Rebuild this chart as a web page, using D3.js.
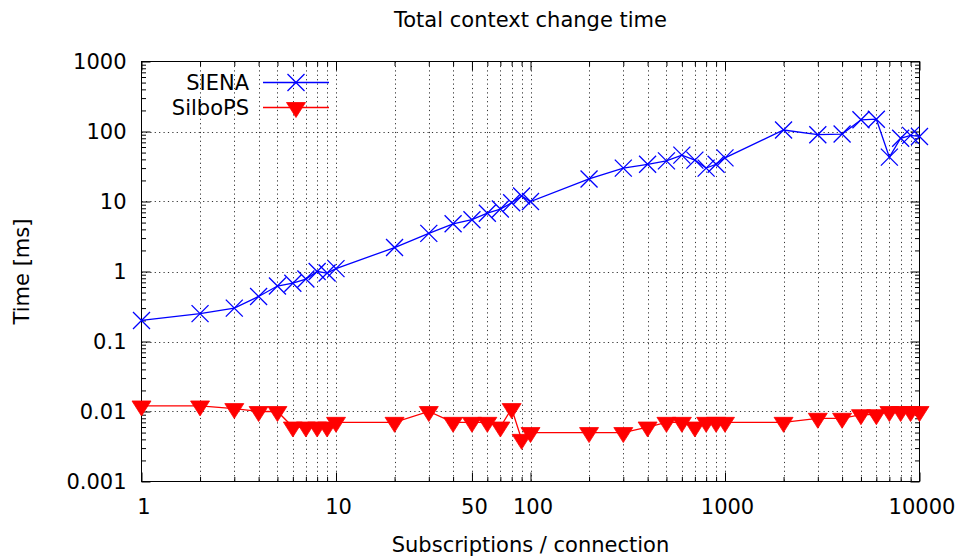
<!DOCTYPE html>
<html>
<head>
<meta charset="utf-8">
<script src="https://cdn.jsdelivr.net/npm/d3@7"></script>
<style>
  html, body { margin: 0; padding: 0; background: #fff; }
  svg text { font-family: "DejaVu Sans", sans-serif; fill: #000; }
</style>
</head>
<body>
<svg id="chart" width="959" height="557"></svg>
<script>
// ---- data ----
const subscriptions = [1,2,3,4,5,6,7,8,9,10,20,30,40,50,60,70,80,90,100,200,300,400,500,600,700,800,900,1000,2000,3000,4000,5000,6000,7000,8000,9000,10000];
const siena   = [0.2,0.25,0.3,0.44,0.62,0.68,0.78,1.0,0.95,1.1,2.2,3.5,4.8,5.5,6.8,7.8,9.6,12,10,21,30,34,38,46,39,30,34,42,105,90,92,147,150,43,80,88,85];
const silbops = [0.012,0.012,0.011,0.01,0.01,0.006,0.006,0.006,0.006,0.007,0.007,0.01,0.007,0.007,0.007,0.006,0.011,0.004,0.005,0.005,0.005,0.006,0.007,0.007,0.006,0.007,0.007,0.007,0.007,0.008,0.008,0.009,0.009,0.01,0.01,0.01,0.01];
const xMajorTicks = [1,10,50,100,1000,10000];
const xTickLabels = ["1","10","50","100","1000","10000"];
const yMajorTicks = [0.001,0.01,0.1,1,10,100,1000];
const yTickLabels = ["0.001","0.01","0.1","1","10","100","1000"];
const seriesNames = ["SIENA","SilboPS"];
const titleText = "Total context change time";
const xLabelText = "Subscriptions / connection";
const yLabelText = "Time [ms]";

// ---- layout ----
const L = 141.5, R = 919.5, T = 61.5, B = 481.5;
const FS = 21;
const svg = d3.select("#chart");

const x = d3.scaleLog().domain([1, 10000]).range([L, R]);
const y = d3.scaleLog().domain([0.001, 1000]).range([B, T]);

// minor ticks: 2..9 multiples in each decade
function minors(lo, hi, exclude) {
  const out = [];
  for (let d = lo; d < hi; d *= 10) {
    for (let m = 2; m <= 9; m++) {
      const v = +(d * m).toPrecision(6);
      if (!exclude.some(e => Math.abs(e - v) / v < 1e-9)) out.push(v);
    }
  }
  return out;
}
const xMinor = minors(1, 10000, xMajorTicks);
const yMinor = minors(0.001, 1000, yMajorTicks);

// ---- grid ----
const grid = svg.append("g").attr("stroke", "#333").attr("stroke-width", 1).attr("stroke-dasharray", "1.2,3.2");
grid.selectAll("line.gx").data(xMajorTicks.concat(xMinor).filter(v => v > 1 && v < 10000)).enter()
  .append("line").attr("x1", d => Math.round(x(d)) + 0.5).attr("x2", d => Math.round(x(d)) + 0.5)
  .attr("y1", T).attr("y2", B);
grid.selectAll("line.gy").data(yMajorTicks.filter(v => v > 0.001 && v < 1000)).enter()
  .append("line").attr("y1", d => Math.round(y(d)) + 0.5).attr("y2", d => Math.round(y(d)) + 0.5)
  .attr("x1", L).attr("x2", R);

// ---- axes (ticks inward, mirrored) ----
function styleAxis(g) {
  g.select(".domain").remove();
  g.selectAll("line").attr("stroke", "#000");
  g.selectAll("text").attr("font-size", FS).attr("font-family", "DejaVu Sans, sans-serif").attr("fill", "#000");
}
svg.append("g").attr("transform", `translate(0,${B})`)
  .call(d3.axisBottom(x).tickValues(xMajorTicks).tickFormat((d, i) => xTickLabels[i]).tickSize(-9).tickPadding(18))
  .call(styleAxis)
  .call(g => g.selectAll("text").attr("dx", 2));
svg.append("g").attr("transform", `translate(0,${B})`)
  .call(d3.axisBottom(x).tickValues(xMinor).tickFormat("").tickSize(-4.5)).call(styleAxis);
svg.append("g").attr("transform", `translate(0,${T})`)
  .call(d3.axisTop(x).tickValues(xMajorTicks).tickFormat("").tickSize(-9)).call(styleAxis);
svg.append("g").attr("transform", `translate(0,${T})`)
  .call(d3.axisTop(x).tickValues(xMinor).tickFormat("").tickSize(-4.5)).call(styleAxis);

svg.append("g").attr("transform", `translate(${L},0)`)
  .call(d3.axisLeft(y).tickValues(yMajorTicks).tickFormat((d, i) => yTickLabels[i]).tickSize(-9).tickPadding(15))
  .call(styleAxis);
svg.append("g").attr("transform", `translate(${L},0)`)
  .call(d3.axisLeft(y).tickValues(yMinor).tickFormat("").tickSize(-4.5)).call(styleAxis);
svg.append("g").attr("transform", `translate(${R},0)`)
  .call(d3.axisRight(y).tickValues(yMajorTicks).tickFormat("").tickSize(-9)).call(styleAxis);
svg.append("g").attr("transform", `translate(${R},0)`)
  .call(d3.axisRight(y).tickValues(yMinor).tickFormat("").tickSize(-4.5)).call(styleAxis);

// border
svg.append("rect").attr("x", L).attr("y", T).attr("width", R - L).attr("height", B - T)
  .attr("fill", "none").attr("stroke", "#000").attr("stroke-width", 1);

// ---- series ----
const blue = "#0000ff", red = "#ff0000";
const line = d3.line().x(d => x(d[0])).y(d => y(d[1]));
const sienaPts = subscriptions.map((s, i) => [s, siena[i]]);
const silboPts = subscriptions.map((s, i) => [s, silbops[i]]);

function xMarker(g, cx, cy, r, color) {
  g.append("path").attr("d", `M${cx - r},${cy - r}L${cx + r},${cy + r}M${cx - r},${cy + r}L${cx + r},${cy - r}`)
    .attr("stroke", color).attr("stroke-width", 1.3).attr("fill", "none");
}
function triMarker(g, cx, cy, color) {
  const w = 9.5, up = 5, down = 10;
  g.append("path").attr("d", `M${cx - w},${cy - up}L${cx + w},${cy - up}L${cx},${cy + down}Z`)
    .attr("fill", color).attr("stroke", color).attr("stroke-width", 0.8);
}

const gS = svg.append("g");
gS.append("path").datum(sienaPts).attr("d", line).attr("fill", "none").attr("stroke", blue).attr("stroke-width", 1.3);
sienaPts.forEach(p => xMarker(gS, x(p[0]), y(p[1]), 8.5, blue));

const gB = svg.append("g");
gB.append("path").datum(silboPts).attr("d", line).attr("fill", "none").attr("stroke", red).attr("stroke-width", 1.3);
silboPts.forEach(p => triMarker(gB, x(p[0]), y(p[1]), red));

// ---- legend ----
const legY = [82.5, 107.5];
const lg = svg.append("g");
seriesNames.forEach((name, i) => {
  lg.append("text").attr("x", 249).attr("y", legY[i] + 7.5).attr("text-anchor", "end")
    .attr("font-size", FS).text(name);
  lg.append("line").attr("x1", 263).attr("x2", 329).attr("y1", legY[i]).attr("y2", legY[i])
    .attr("stroke", i === 0 ? blue : red).attr("stroke-width", 1.3);
  if (i === 0) xMarker(lg, 296, legY[i], 8.5, blue); else triMarker(lg, 296, legY[i], red);
});

// ---- titles ----
svg.append("text").attr("x", (L + R) / 2).attr("y", 27).attr("text-anchor", "middle").attr("font-size", FS).text(titleText);
svg.append("text").attr("x", (L + R) / 2).attr("y", 552).attr("text-anchor", "middle").attr("font-size", FS).text(xLabelText);
svg.append("text").attr("transform", `translate(28.5,271.5) rotate(-90)`).attr("text-anchor", "middle").attr("font-size", FS).text(yLabelText);
</script>
</body>
</html>
